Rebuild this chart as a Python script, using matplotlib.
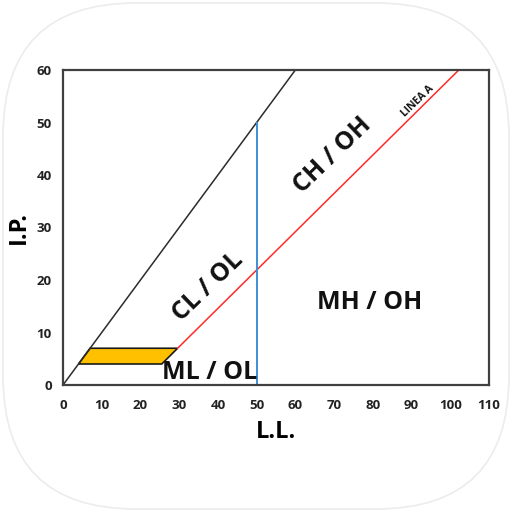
import matplotlib
matplotlib.use("Agg")
import matplotlib.pyplot as plt
from matplotlib.patches import FancyBboxPatch, Polygon

# Data
u_line_ll = [0, 60]
u_line_ip = [0, 60]
a_line_ll = [29.6, 102.2]
a_line_ip = [7, 60]
ll50_ll = [50, 50]
ll50_ip = [0, 50]
clml_ll = [4, 7, 29.6, 25.5]
clml_ip = [4, 7, 7, 4]
x_ticks = [0, 10, 20, 30, 40, 50, 60, 70, 80, 90, 100, 110]
y_ticks = [0, 10, 20, 30, 40, 50, 60]
zone_labels = ["CL / OL", "CH / OH", "MH / OH", "ML / OL", "LINEA A"]
zone_x = [37.4, 69.5, 79.3, 37.8, 91.7]
zone_y = [18.7, 43.8, 15.8, 2.3, 54.0]
zone_rot = [44, 44, 0, 0, 44]
zone_size = [18, 18, 18, 18, 7.5]

plt.rcParams['font.family'] = ['Open Sans', 'DejaVu Sans']

fig = plt.figure(figsize=(5.12, 5.12), dpi=100)
fig.patch.set_facecolor('white')
bg = FancyBboxPatch((3/512, 3/512), 506/512, 506/512,
                    boxstyle="round,pad=0,rounding_size=0.26",
                    transform=fig.transFigure, facecolor='white',
                    edgecolor='#ececec', linewidth=1.2, zorder=-10)
fig.patches.append(bg)

ax = fig.add_axes([63/512, (512-385)/512, 426/512, 315/512])
ax.set_xlim(0, 110)
ax.set_ylim(0, 60)
ax.set_facecolor('white')

ax.plot(u_line_ll, u_line_ip, color='#2b2b2b', lw=1.1)
ax.plot(a_line_ll, a_line_ip, color='#ff2a2a', lw=1.1)
ax.plot(ll50_ll, ll50_ip, color='#3d8fd6', lw=1.4)
ax.add_patch(Polygon(list(zip(clml_ll, clml_ip)), closed=True,
                     facecolor='#ffc000', edgecolor='#1a1a1a', lw=1.2))

for t, x, y, r, s in zip(zone_labels, zone_x, zone_y, zone_rot, zone_size):
    ax.text(x, y, t, rotation=r, ha='center', va='center', fontsize=s,
            fontweight='bold', color='#111111')

ax.set_xticks(x_ticks)
ax.set_yticks(y_ticks)
ax.tick_params(length=0, labelsize=9.5, colors='#222222')
ax.tick_params(axis='x', pad=10)
ax.tick_params(axis='y', pad=8)
for lab in ax.get_xticklabels() + ax.get_yticklabels():
    lab.set_fontweight('bold')
for sp in ax.spines.values():
    sp.set_color('#404040')
    sp.set_linewidth(1.6)

ax.set_xlabel('L.L.', fontsize=17, fontweight='bold', labelpad=6)
ax.set_ylabel('I.P.', fontsize=17, fontweight='bold', labelpad=4)

fig.savefig('out.png', dpi=100)
